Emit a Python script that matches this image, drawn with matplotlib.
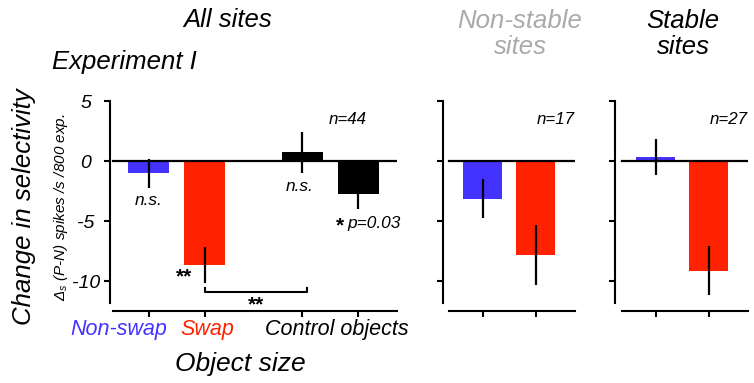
import matplotlib
matplotlib.use("Agg")
import matplotlib.pyplot as plt

plt.rcParams['font.family'] = ['Liberation Sans', 'DejaVu Sans']
plt.rcParams['font.style'] = 'italic'
plt.rcParams['mathtext.fontset'] = 'custom'
plt.rcParams['mathtext.rm'] = 'Liberation Sans:italic'
plt.rcParams['mathtext.it'] = 'Liberation Sans:italic'

BLUE = '#4433ff'
RED = '#ff2200'

# all sites: non-swap, swap, control (two sizes)
all_pos = [0, 1, 2.75, 3.75]
all_vals = [-1.0, -8.6, 0.75, -2.75]
all_err = [1.2, 1.5, 1.7, 1.25]
all_cols = [BLUE, RED, 'black', 'black']

# non-stable sites
ns_pos = [0, 1]
ns_vals = [-3.1, -7.8]
ns_err = [1.6, 2.5]

# stable sites
st_pos = [0, 1]
st_vals = [0.4, -9.1]
st_err = [1.5, 2.05]

yticks = [5, 0, -5, -10]
n_labels = ['n=44', 'n=17', 'n=27']

W, H = 754, 383
fig = plt.figure(figsize=(W / 100, H / 100), dpi=100)


def box(x0, x1, y0, y1):
    return [x0 / W, 1 - y1 / H, (x1 - x0) / W, (y1 - y0) / H]


def ftext(x, y, s, **kw):
    fig.text(x / W, 1 - y / H, s, **kw)


def panel(rect, pos, vals, err, cols, xlim, line_start, ticklabels):
    ax = fig.add_axes(rect)
    ax.bar(pos, vals, width=0.73, color=cols, edgecolor='none', zorder=1)
    ax.errorbar(pos, vals, yerr=err, fmt='none', ecolor='black',
                elinewidth=1.6, capsize=0, zorder=3)
    ax.set_xlim(*xlim)
    ax.set_ylim(-11.8, 5)
    frac = (line_start - xlim[0]) / (xlim[1] - xlim[0])
    ax.axhline(0, xmin=frac, xmax=1, color='black', lw=1.6, zorder=2)
    for s in ['top', 'right']:
        ax.spines[s].set_visible(False)
    ax.spines['left'].set_linewidth(1.5)
    ax.spines['bottom'].set_linewidth(1.5)
    ax.spines['bottom'].set_position(('outward', 5.8))
    ax.spines['bottom'].set_bounds(line_start, xlim[1])
    ax.set_xticks(pos)
    ax.set_xticklabels([])
    ax.set_yticks(yticks)
    ax.tick_params(axis='both', direction='out', length=4.3, width=1.5)
    ax.tick_params(axis='y', pad=13)
    if ticklabels:
        ax.set_yticklabels([str(t) for t in yticks], fontsize=14)
        for lab in ax.get_yticklabels():
            lab.set_horizontalalignment('center')
    else:
        ax.set_yticklabels([])
    ax.patch.set_visible(False)
    return ax


ax1 = panel(box(110, 397, 101.3, 303), all_pos, all_vals, all_err, all_cols,
            (-0.69, 4.44), -0.634, True)
ax2 = panel(box(443, 575, 101.3, 303), ns_pos, ns_vals, ns_err, [BLUE, RED],
            (-0.74, 1.73), -0.626, False)
ax3 = panel(box(615, 748, 101.3, 303), st_pos, st_vals, st_err, [BLUE, RED],
            (-0.77, 1.74), -0.64, False)

# sample sizes
ax1.text(3.9, 3.5, n_labels[0], ha='right', va='center', fontsize=12.2)
ax2.text(1.73, 3.5, n_labels[1], ha='right', va='center', fontsize=12.2)
ax3.text(1.74, 3.5, n_labels[2], ha='right', va='center', fontsize=12.2)

# significance marks
ax1.text(all_pos[0], -3.25, 'n.s.', ha='center', va='center', fontsize=12.4)
ax1.text(all_pos[2] - 0.05, -2.1, 'n.s.', ha='center', va='center', fontsize=12.4)
ax1.text(all_pos[3] - 0.33, -5.4, '*', ha='center', va='center', fontsize=15,
         style='normal', weight='bold')
ax1.text(all_pos[3] - 0.2, -5.2, 'p=0.03', ha='left', va='center', fontsize=12.4)
ax1.text(all_pos[1] - 0.37, -9.65, '**', ha='center', va='center', fontsize=15,
         style='normal', weight='bold')
ax1.plot([all_pos[1], all_pos[1], all_pos[2] + 0.08, all_pos[2] + 0.08],
         [-10.55, -10.9, -10.9, -10.55], color='black', lw=1.5, clip_on=False)
ax1.text((all_pos[1] + all_pos[2] + 0.08) / 2, -11.95, '**', ha='center',
         va='center', fontsize=15, style='normal', weight='bold',
         clip_on=False)

# titles
ftext(228, 20, 'All sites', ha='center', va='center', fontsize=18.5)
ftext(124, 62, 'Experiment I', ha='center', va='center', fontsize=18.5)
ftext(520, 34, 'Non-stable\nsites', ha='center', va='center', fontsize=18.5,
      color='#aaaaaa', linespacing=1.1)
ftext(683, 34, 'Stable\nsites', ha='center', va='center', fontsize=18.5,
      linespacing=1.1)

# axis labels
ftext(24, 207, 'Change in selectivity', ha='center', va='center',
      rotation=90, fontsize=18.5)
ftext(61, 207, 'Δ$_{s}$ (P-N) spikes /s /800 exp.', ha='center', va='center',
      rotation=90, fontsize=11)

ftext(119, 330, 'Non-swap', ha='center', va='center', fontsize=15.5, color=BLUE)
ftext(207, 330, 'Swap', ha='center', va='center', fontsize=15.5, color=RED)
ftext(337, 330, 'Control objects', ha='center', va='center', fontsize=15.5)
ftext(240, 364, 'Object size', ha='center', va='center', fontsize=19)

fig.savefig('out.png', dpi=100)
